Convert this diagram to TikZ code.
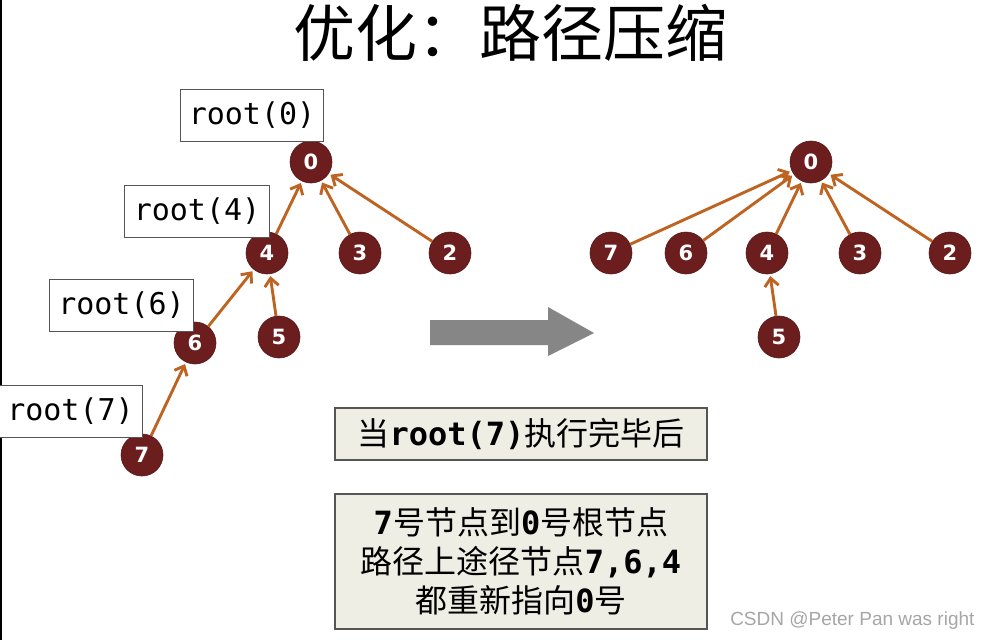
\documentclass[tikz,border=0pt]{standalone}
\usepackage{fontspec}
\setmainfont{Noto Sans CJK SC}
\newfontfamily\monof{DejaVu Sans Mono}
\newfontfamily\monobf{DejaVu Sans Mono Bold}
\newfontfamily\numf{DejaVu Sans Bold}
\newfontfamily\latf{Liberation Sans}
\usetikzlibrary{arrows.meta}
\definecolor{nodefill}{RGB}{108,30,30}
\definecolor{edgecol}{RGB}{190,100,35}
\definecolor{boxfill}{RGB}{238,238,228}
\definecolor{boxline}{RGB}{85,85,85}
\newcommand{\mb}[1]{{\monobf #1}}
\tikzset{
  tnode/.style={circle,fill=nodefill,draw=nodefill!80!black,line width=0.6pt,minimum size=42pt,inner sep=0pt,text=white,font=\numf\fontsize{21}{21}\selectfont},
  lbl/.style={draw=boxline,line width=1pt,fill=white,minimum height=52pt,inner xsep=6pt,inner ysep=0pt,font=\monof\fontsize{30}{30}\selectfont},
  link/.style={draw=edgecol,line width=2.9pt,shorten >=2pt,shorten <=0pt,-{Straight Barb[length=8pt,width=14pt,line width=2.9pt]}},
  infobox/.style={draw=boxline,line width=1.3pt,fill=boxfill,align=center,font=\fontsize{32}{39}\selectfont,text width=372pt,inner sep=0pt}
}
\begin{document}
\begin{tikzpicture}[x=1pt,y=-1pt]
\useasboundingbox (0,0) rectangle (992,640);
\fill[white] (0,0) rectangle (992,640);
\draw[black,line width=2pt] (1,0) -- (1,640);
% title
\node (title) at (510,33) {\fontsize{62}{62}\selectfont 优化：路径压缩};
% left tree
\node[tnode] (L0) at (311,162) {0};
\node[tnode] (L4) at (267,253) {4};
\node[tnode] (L3) at (360,253) {3};
\node[tnode] (L2) at (450,253) {2};
\node[tnode] (L6) at (195,343) {6};
\node[tnode] (L5) at (279,337) {5};
\node[tnode] (L7) at (142,455) {7};
\draw[link] (L4) -- (L0);
\draw[link] (L3) -- (L0);
\draw[link] (L2) -- (L0);
\draw[link] (L6) -- (L4);
\draw[link] (L5) -- (L4);
\draw[link] (L7) -- (L6);
% labels
\node[lbl,anchor=north west,minimum width=143pt] (r0) at (180,89) {root(0)};
\node[lbl,anchor=north west,minimum width=145pt] (r4) at (124,185) {root(4)};
\node[lbl,anchor=north west,minimum width=144pt] (r6) at (49,279) {root(6)};
\node[lbl,anchor=north west,minimum width=144pt] (r7) at (-2,385) {root(7)};
% big gray arrow
\fill[gray!95] (430,320) -- (548,320) -- (548,307) -- (594,333) -- (548,356) -- (548,345) -- (430,345) -- cycle;
% right tree
\node[tnode] (R0) at (811,162) {0};
\node[tnode] (R7) at (611,253) {7};
\node[tnode] (R6) at (686,253) {6};
\node[tnode] (R4) at (767,253) {4};
\node[tnode] (R3) at (860,253) {3};
\node[tnode] (R2) at (950,253) {2};
\node[tnode] (R5) at (779,337) {5};
\draw[link] (R7) -- (R0);
\draw[link] (R6) -- (R0);
\draw[link] (R4) -- (R0);
\draw[link] (R3) -- (R0);
\draw[link] (R2) -- (R0);
\draw[link] (R5) -- (R4);
% info boxes
\node[infobox,minimum height=52pt] (b1) at (521,434) {当\mb{root(7)}执行完毕后};
\node[infobox,minimum height=135pt] (b2) at (521,561.5) {\mb{7}号节点到\mb{0}号根节点\\路径上途径节点\mb{7,6,4}\\都重新指向\mb{0}号};
% watermark
\node[text=gray!70,font=\latf\fontsize{19}{19}\selectfont,anchor=east] (wm) at (978,621) {CSDN @Peter Pan was right};
\end{tikzpicture}
\end{document}
